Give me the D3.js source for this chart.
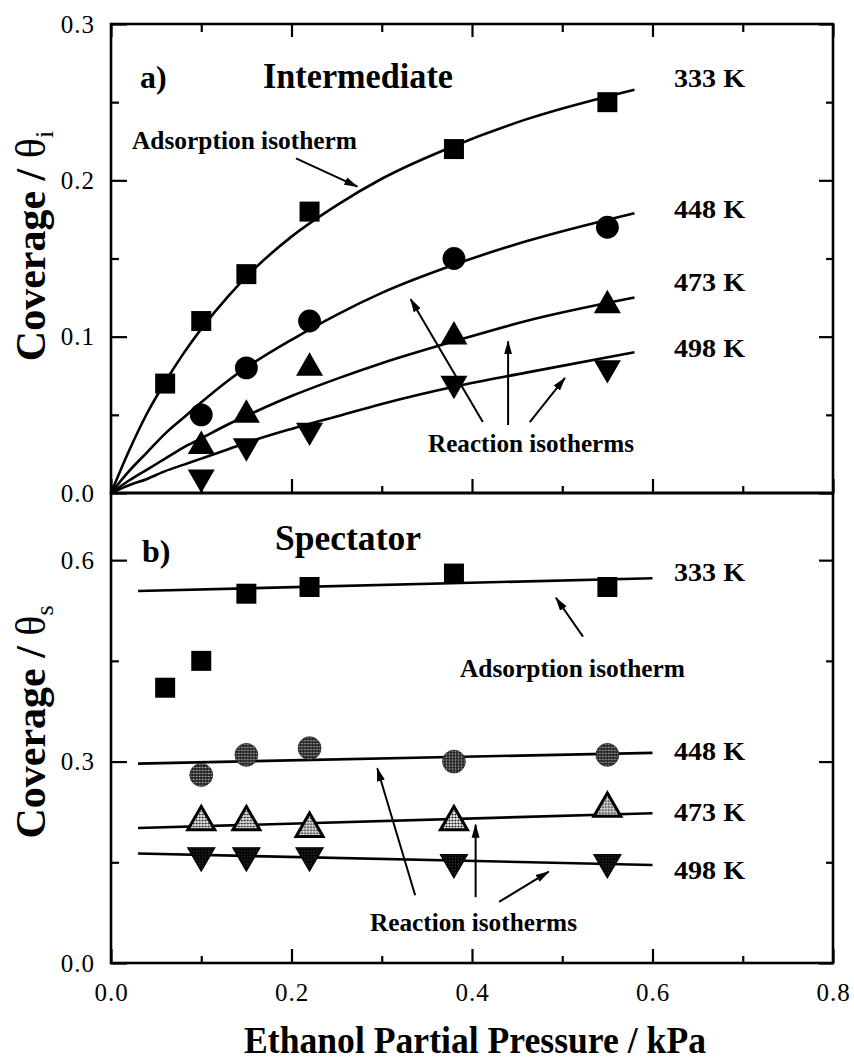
<!DOCTYPE html>
<html>
<head>
<meta charset="utf-8">
<script src="https://cdn.jsdelivr.net/npm/d3@7"></script>
<style>
  html, body { margin: 0; padding: 0; background: #fff; }
  svg { display: block; }
  text { font-family: "Liberation Serif", "Times New Roman", Times, serif; fill: #000; }
</style>
</head>
<body>
<svg id="chart" width="854" height="1061"></svg>
<script>
// ---- Data ---------------------------------------------------------------
// Ethanol partial pressures (kPa) of the measurements
const pressure = [0.06, 0.10, 0.15, 0.22, 0.38, 0.55];
const temperatures = ["333 K", "448 K", "473 K", "498 K"];

// (a) Intermediate coverage, θi
const inter333 = [0.07, 0.11, 0.14, 0.18, 0.22, 0.25];
const inter448 = [null, 0.05, 0.08, 0.11, 0.15, 0.17];
const inter473 = [null, 0.03, 0.05, 0.08, 0.10, 0.12];
const inter498 = [null, 0.01, 0.03, 0.04, 0.07, 0.08];

// (a) isotherm curves
const curveP   = [0, 0.02, 0.04, 0.06, 0.08, 0.10, 0.13, 0.16, 0.20, 0.25, 0.30, 0.38, 0.46, 0.58];
const curve333 = [0, 0.027, 0.051, 0.071, 0.089, 0.105, 0.126, 0.144, 0.164, 0.184, 0.201, 0.222, 0.239, 0.258];
const curve448 = [0, 0.014, 0.026, 0.038, 0.048, 0.058, 0.072, 0.084, 0.098, 0.114, 0.128, 0.146, 0.161, 0.179];
const curve473 = [0, 0.008, 0.015, 0.022, 0.029, 0.035, 0.044, 0.052, 0.062, 0.073, 0.083, 0.097, 0.110, 0.125];
const curve498 = [0, 0.005, 0.009, 0.014, 0.018, 0.022, 0.028, 0.034, 0.041, 0.049, 0.057, 0.068, 0.077, 0.090];

// (b) Spectator coverage, θs
const spec333 = [0.41, 0.45, 0.55, 0.56, 0.58, 0.56];
const spec448 = [null, 0.28, 0.31, 0.32, 0.30, 0.31];
const spec473 = [null, 0.21, 0.21, 0.20, 0.21, 0.23];
const spec498 = [null, 0.16, 0.16, 0.16, 0.15, 0.15];

// (b) isotherm lines (start / end)
const lineP   = [0.03, 0.60];
const line333 = [0.554, 0.573];
const line448 = [0.297, 0.313];
const line473 = [0.201, 0.223];
const line498 = [0.163, 0.146];

// Axis ticks
const xTicks      = [0, 0.2, 0.4, 0.6, 0.8];
const xMinorTicks = [0.1, 0.3, 0.5, 0.7];
const yATicks      = [0, 0.1, 0.2, 0.3];
const yAMinorTicks = [0.05, 0.15, 0.25];
const yBTicks      = [0, 0.3, 0.6];
const yBMinorTicks = [0.15, 0.45];

// ---- Layout -------------------------------------------------------------
const svg = d3.select("#chart");
const left = 111, right = 833, topA = 24, mid = 493, bottomB = 963;

const x  = d3.scaleLinear().domain([0, 0.8]).range([left, right]);
const yA = d3.scaleLinear().domain([0, 0.3]).range([mid, topA]);
const yB = d3.scaleLinear().domain([0, 0.7]).range([bottomB, mid]);

const defs = svg.append("defs");

// stippled fills for the spectator symbols
function stipple(id, bg, dot, r) {
  const p = defs.append("pattern").attr("id", id)
    .attr("width", 3).attr("height", 3).attr("patternUnits", "userSpaceOnUse");
  p.append("rect").attr("width", 3).attr("height", 3).attr("fill", bg);
  p.append("circle").attr("cx", 1.5).attr("cy", 1.5).attr("r", r).attr("fill", dot);
}
stipple("dotsCircle", "#262626", "#c8c8c8", 0.8);
stipple("dotsUp", "#f4f4f4", "#111", 1.05);
stipple("dotsDown", "#050505", "#5a5a5a", 0.55);

defs.append("marker").attr("id", "head")
  .attr("markerUnits", "userSpaceOnUse")
  .attr("markerWidth", 14).attr("markerHeight", 10)
  .attr("refX", 13).attr("refY", 5).attr("orient", "auto")
  .append("path").attr("d", "M0,1 L14,5 L0,9 Z").attr("fill", "#000");

// ---- Axes ---------------------------------------------------------------
const fmt = d3.format(".1f");
function styleAxis(g, showLabels) {
  g.select(".domain").remove();
  g.attr("font-family", null).attr("font-size", null);
  g.selectAll(".tick line").attr("stroke", "#000").attr("stroke-width", 2.2);
  const t = g.selectAll(".tick text");
  if (showLabels) {
    t.attr("fill", "#000").style("font-size", "25px").style("letter-spacing", "1px");
  } else {
    t.remove();
  }
}
function addAxis(axis, tr, labels) {
  svg.append("g").attr("transform", tr).call(axis).call(g => styleAxis(g, labels));
}

// panel (a)
addAxis(d3.axisLeft(yA).tickValues(yATicks).tickFormat(fmt).tickSizeInner(-16).tickSizeOuter(0).tickPadding(16),
        `translate(${left},0)`, true);
addAxis(d3.axisLeft(yA).tickValues(yAMinorTicks).tickSizeInner(-8).tickSizeOuter(0), `translate(${left},0)`, false);
addAxis(d3.axisRight(yA).tickValues(yATicks).tickSizeInner(-14).tickSizeOuter(0), `translate(${right},0)`, false);
addAxis(d3.axisRight(yA).tickValues(yAMinorTicks).tickSizeInner(-7).tickSizeOuter(0), `translate(${right},0)`, false);
addAxis(d3.axisTop(x).tickValues(xTicks).tickSizeInner(-13).tickSizeOuter(0), `translate(0,${topA})`, false);
addAxis(d3.axisTop(x).tickValues(xMinorTicks).tickSizeInner(-8).tickSizeOuter(0), `translate(0,${topA})`, false);
addAxis(d3.axisBottom(x).tickValues(xTicks).tickSizeInner(-14).tickSizeOuter(0), `translate(0,${mid})`, false);
addAxis(d3.axisBottom(x).tickValues(xMinorTicks).tickSizeInner(-7).tickSizeOuter(0), `translate(0,${mid})`, false);

// panel (b)
addAxis(d3.axisLeft(yB).tickValues(yBTicks).tickFormat(fmt).tickSizeInner(-16).tickSizeOuter(0).tickPadding(16),
        `translate(${left},0)`, true);
addAxis(d3.axisLeft(yB).tickValues(yBMinorTicks).tickSizeInner(-8).tickSizeOuter(0), `translate(${left},0)`, false);
addAxis(d3.axisRight(yB).tickValues(yBTicks).tickSizeInner(-14).tickSizeOuter(0), `translate(${right},0)`, false);
addAxis(d3.axisRight(yB).tickValues(yBMinorTicks).tickSizeInner(-7).tickSizeOuter(0), `translate(${right},0)`, false);
addAxis(d3.axisBottom(x).tickValues(xTicks).tickFormat(fmt).tickSizeInner(-14).tickSizeOuter(0).tickPadding(20),
        `translate(0,${bottomB})`, true);
addAxis(d3.axisBottom(x).tickValues(xMinorTicks).tickSizeInner(-7).tickSizeOuter(0), `translate(0,${bottomB})`, false);

// frames
[[yA, 0.3], [yB, 0.7]].forEach(([ys, top]) => {
  svg.append("rect")
    .attr("x", x(0)).attr("y", ys(top))
    .attr("width", x(0.8) - x(0)).attr("height", ys(0) - ys(top))
    .attr("fill", "none").attr("stroke", "#000").attr("stroke-width", 2.6);
});

// ---- Series -------------------------------------------------------------
const shapes = [
  { type: d3.symbolSquare,   size: 400, rot: 0 },
  { type: d3.symbolCircle,   size: 410, rot: 0 },
  { type: d3.symbolTriangle, size: 316, rot: 0 },
  { type: d3.symbolTriangle, size: 316, rot: 180 }
];

const seriesA = [inter333, inter448, inter473, inter498];
const curvesA = [curve333, curve448, curve473, curve498];
const seriesB = [spec333, spec448, spec473, spec498];
const linesB  = [line333, line448, line473, line498];

const lineA = d3.line().x(d => x(d[0])).y(d => yA(d[1])).curve(d3.curveMonotoneX);
const lineBgen = d3.line().x(d => x(d[0])).y(d => yB(d[1]));

curvesA.forEach(c => {
  svg.append("path").datum(curveP.map((p, i) => [p, c[i]]))
    .attr("d", lineA).attr("fill", "none").attr("stroke", "#000").attr("stroke-width", 2.6);
});
linesB.forEach(l => {
  svg.append("path").datum(lineP.map((p, i) => [p, l[i]]))
    .attr("d", lineBgen).attr("fill", "none").attr("stroke", "#000").attr("stroke-width", 2.6);
});

function drawPoints(values, ys, shape, fill, stroke, sw) {
  const pts = pressure.map((p, i) => [p, values[i]]).filter(d => d[1] != null);
  svg.append("g").selectAll("path").data(pts).join("path")
    .attr("d", d3.symbol().type(shape.type).size(shape.size))
    .attr("transform", d => `translate(${x(d[0])},${ys(d[1])}) rotate(${shape.rot})`)
    .attr("fill", fill).attr("stroke", stroke).attr("stroke-width", sw);
}

seriesA.forEach((s, i) => drawPoints(s, yA, shapes[i], "#000", "none", 0));

const fillsB = ["#000", "url(#dotsCircle)", "url(#dotsUp)", "url(#dotsDown)"];
const strokesB = [["none", 0], ["#222", 0.8], ["#000", 3], ["#000", 1.2]];
seriesB.forEach((s, i) => drawPoints(s, yB, shapes[i], fillsB[i], strokesB[i][0], strokesB[i][1]));

// ---- Annotations ----------------------------------------------------------
function label(txt, px, py, size, opts = {}) {
  const t = svg.append("text").attr("x", px).attr("y", py)
    .style("font-size", size + "px").style("font-weight", "bold").text(txt);
  if (opts.len) t.attr("textLength", opts.len).attr("lengthAdjust", "spacingAndGlyphs");
  return t;
}
function arrow(ys, from, to) {
  svg.append("line")
    .attr("x1", x(from[0])).attr("y1", ys(from[1]))
    .attr("x2", x(to[0])).attr("y2", ys(to[1]))
    .attr("stroke", "#000").attr("stroke-width", 2).attr("marker-end", "url(#head)");
}

// panel (a)
label("a)", 140, 88, 32);
label("Intermediate", 263, 88, 35, { len: 190 });
const tempYA = [87, 218, 291, 357];
temperatures.forEach((t, i) => label(t, 674, tempYA[i], 26, { len: 71 }));
label("Adsorption isotherm", 132, 149, 26, { len: 225 });
arrow(yA, [0.205, 0.214], [0.273, 0.196]);
label("Reaction isotherms", 428, 452, 26, { len: 206 });
arrow(yA, [0.412, 0.0454], [0.332, 0.124]);
arrow(yA, [0.440, 0.0435], [0.440, 0.097]);
arrow(yA, [0.464, 0.0454], [0.503, 0.0736]);

// panel (b)
label("b)", 142, 562, 32);
label("Spectator", 275, 550, 35, { len: 146 });
const tempYB = [581, 760, 821, 879];
temperatures.forEach((t, i) => label(t, 674, tempYB[i], 26, { len: 71 }));
label("Adsorption isotherm", 460, 677, 26, { len: 225 });
arrow(yB, [0.523, 0.486], [0.493, 0.544]);
label("Reaction isotherms", 370, 931, 26, { len: 207 });
arrow(yB, [0.337, 0.101], [0.295, 0.290]);
arrow(yB, [0.404, 0.098], [0.404, 0.206]);
arrow(yB, [0.430, 0.091], [0.485, 0.136]);

// axis titles
function yTitle(cy, sub) {
  const t = svg.append("text")
    .attr("transform", `translate(45,${cy}) rotate(-90)`)
    .attr("text-anchor", "middle")
    .style("font-size", "42px").style("font-weight", "bold");
  t.append("tspan").text("Coverage / ");
  t.append("tspan").style("font-weight", "normal").text("θ");
  t.append("tspan").style("font-weight", "normal").style("font-size", "26px")
    .attr("dy", 8).text(sub);
}
yTitle(246, "i");
yTitle(722, "s");

svg.append("text").attr("x", 475).attr("y", 1053).attr("text-anchor", "middle")
  .attr("textLength", 462).attr("lengthAdjust", "spacingAndGlyphs")
  .style("font-size", "38px").style("font-weight", "bold")
  .text("Ethanol Partial Pressure / kPa");
</script>
</body>
</html>
